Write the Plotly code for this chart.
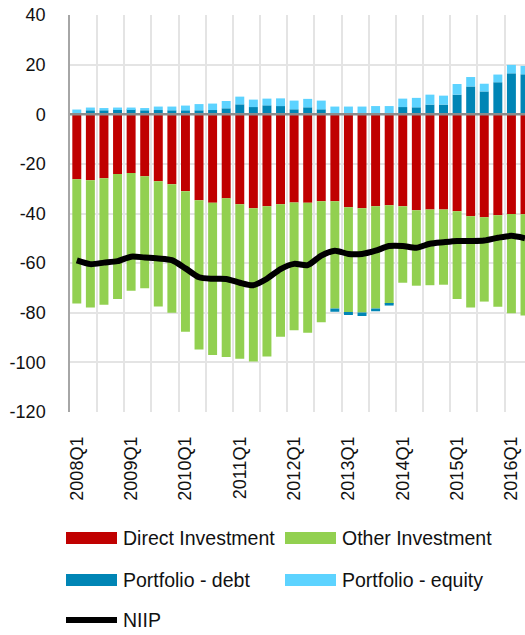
import plotly.graph_objects as go

# Quarterly categories, 2008Q1 .. 2016Q2
quarters = [f"{y}Q{q}" for y in range(2008, 2017) for q in range(1, 5)][:34]

# Components of the net international investment position (% of GDP)
direct_investment = [-26.2, -26.6, -25.8, -24.1, -23.7, -25.0, -27.0, -28.2, -31.0, -34.7,
                     -35.7, -33.9, -36.3, -37.9, -37.1, -36.3, -35.6, -35.7, -35.1, -35.1,
                     -37.5, -37.9, -37.1, -36.7, -37.1, -38.7, -38.4, -38.4, -39.1, -41.1,
                     -41.5, -40.7, -40.2, -40.3]
other_investment = [-50.1, -51.3, -51.0, -50.4, -47.4, -45.1, -50.5, -51.8, -56.7, -60.1,
                    -61.3, -63.9, -62.2, -61.7, -60.5, -53.4, -51.5, -52.4, -48.7, -43.2,
                    -42.2, -42.0, -41.2, -39.7, -30.8, -30.4, -30.5, -30.3, -35.4, -36.8,
                    -34.0, -36.9, -40.0, -40.8]
portfolio_debt = [0.4, 1.6, 1.6, 2.0, 2.0, 1.6, 1.7, 1.6, 1.6, 1.6,
                  1.7, 2.4, 4.0, 2.9, 3.6, 3.3, 2.0, 2.8, 2.0, -1.3,
                  -1.2, -1.4, -1.1, -0.7, 2.9, 2.8, 3.9, 3.9, 7.9, 11.2,
                  9.2, 12.9, 16.5, 16.1]
portfolio_equity = [1.5, 1.1, 0.9, 0.7, 0.7, 0.9, 1.4, 1.5, 1.9, 2.5,
                    2.6, 2.95, 3.1, 3.0, 2.7, 3.1, 3.5, 3.4, 3.5, 3.1,
                    3.1, 3.1, 3.3, 3.3, 3.4, 3.8, 4.0, 3.6, 4.3, 3.8,
                    3.1, 3.1, 3.4, 3.4]
niip = [-58.9, -60.4, -59.8, -59.2, -57.4, -57.7, -58.1, -58.8, -62.1, -65.7,
        -66.3, -66.4, -67.9, -68.9, -66.3, -62.4, -60.3, -60.8, -57.0, -55.0,
        -56.3, -56.3, -55.0, -53.1, -53.1, -53.8, -52.2, -51.6, -51.1, -51.1,
        -50.9, -49.8, -49.0, -50.0]

y_ticks = [40, 20, 0, -20, -40, -60, -80, -100, -120]

series = [
    ("Direct Investment", direct_investment, "#C00000"),
    ("Other Investment", other_investment, "#92D050"),
    ("Portfolio - debt", portfolio_debt, "#0085B5"),
    ("Portfolio - equity", portfolio_equity, "#5DD3FF"),
]

FONT = "Liberation Sans"
TEXT = "#111111"
xs = list(range(len(quarters)))

fig = go.Figure()
for name, vals, color in series:
    fig.add_trace(go.Bar(x=xs, y=vals, name=name, marker=dict(color=color, line=dict(width=0)),
                         showlegend=False))
fig.add_trace(go.Scatter(x=xs, y=niip, name="NIIP", mode="lines",
                         line=dict(color="#000000", width=6, shape="spline", smoothing=0.7),
                         showlegend=False))

W, H = 525, 635
ML, MR, MT, MB = 70, 0, 15, 223
pw, ph = W - ML - MR, H - MT - MB


def px(x):
    return (x - ML) / pw


def py(y):
    return (H - MB - y) / ph


shapes = [
    # zero line drawn over the bars
    dict(type="line", xref="paper", yref="y", x0=0, x1=1, y0=0, y1=0,
         line=dict(color="#8C8C8C", width=2.5), layer="above"),
]
annotations = []

# legend: coloured swatches and labels below the plot
legend_items = [
    ("Direct Investment", "#C00000", 66, 538),
    ("Other Investment", "#92D050", 285, 538),
    ("Portfolio - debt", "#0085B5", 66, 580),
    ("Portfolio - equity", "#5DD3FF", 285, 580),
]
for label, color, x0, yc in legend_items:
    shapes.append(dict(type="rect", xref="paper", yref="paper",
                       x0=px(x0), x1=px(x0 + 51), y0=py(yc - 6), y1=py(yc + 6),
                       fillcolor=color, line=dict(width=0)))
    annotations.append(dict(xref="paper", yref="paper", x=px(x0 + 55), y=py(yc),
                            text=label, showarrow=False, xanchor="left", yanchor="middle",
                            font=dict(family=FONT, size=19.5, color=TEXT)))
shapes.append(dict(type="line", xref="paper", yref="paper",
                   x0=px(66), x1=px(117), y0=py(620), y1=py(620),
                   line=dict(color="#000000", width=6)))
annotations.append(dict(xref="paper", yref="paper", x=px(121), y=py(620),
                        text="NIIP", showarrow=False, xanchor="left", yanchor="middle",
                        font=dict(family=FONT, size=19.5, color=TEXT)))

fig.update_layout(
    width=W, height=H,
    margin=dict(l=ML, r=MR, t=MT, b=MB, pad=0),
    barmode="relative",
    bargap=0.34,
    paper_bgcolor="white",
    plot_bgcolor="white",
    font=dict(family=FONT, size=18, color=TEXT),
    shapes=shapes,
    annotations=annotations,
    showlegend=False,
)
fig.update_xaxes(
    range=[-0.5, 33.0],
    tickmode="array",
    tickvals=xs[::4],
    ticktext=quarters[::4],
    tickangle=-90,
    ticks="",
    ticklabelstandoff=20,
    showgrid=False,
    minor=dict(tick0=-0.5, dtick=2, showgrid=True, gridcolor="#E4E4E4", gridwidth=1.5),
    zeroline=False,
    showline=False,
    tickfont=dict(family=FONT, size=18, color=TEXT),
)
fig.update_yaxes(
    range=[-120, 40],
    tickmode="array",
    tickvals=y_ticks,
    ticktext=[str(v) for v in y_ticks],
    showgrid=True,
    gridcolor="#E4E4E4",
    gridwidth=1.5,
    zeroline=False,
    showline=True,
    linecolor="#A6A6A6",
    linewidth=1.5,
    ticks="",
    ticklabelstandoff=19,
    tickfont=dict(family=FONT, size=18, color=TEXT),
)

fig.write_html("out.html")
